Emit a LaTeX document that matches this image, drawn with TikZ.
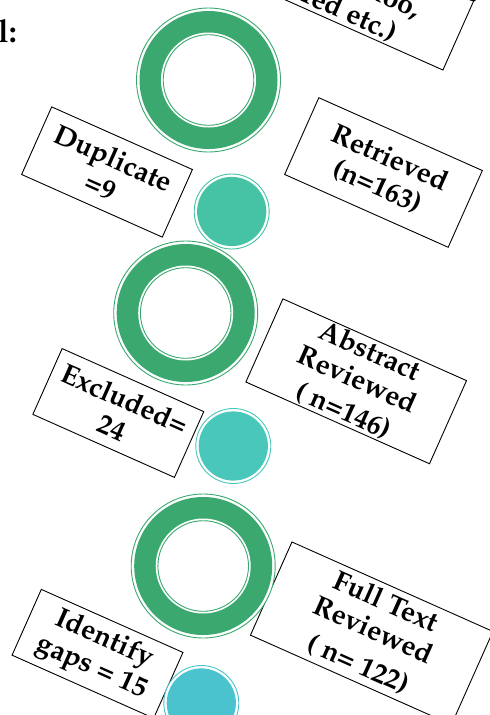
\documentclass[tikz,border=0pt]{standalone}
\usepackage[T1]{fontenc}
\usepackage{mathpazo}
\definecolor{ringgreen}{HTML}{3AA86F}
\definecolor{dotA}{HTML}{46C3A5}
\definecolor{dotB}{HTML}{49C7BB}
\definecolor{dotC}{HTML}{4BC3CF}
\begin{document}
\begin{tikzpicture}[x=1pt,y=-1pt,
  boxfont/.style={font=\fontsize{28}{31}\selectfont\bfseries},
  box/.style={draw=black, line width=0.9pt, fill=white, rotate=-24, align=center,
    boxfont, inner sep=0pt},
  boxtext/.style={rotate=-24, align=center, boxfont, inner sep=0pt},
  ring/.style={circle, draw=ringgreen, line width=0.9pt, fill=white, inner sep=0pt,
    minimum size=144pt,
    path picture={
      \fill[ringgreen] (path picture bounding box.center) circle[radius=69pt];
      \fill[white] (path picture bounding box.center) circle[radius=47.5pt];
      \draw[ringgreen, line width=0.9pt] (path picture bounding box.center) circle[radius=45.3pt];
    }},
  dot/.style={circle, draw=#1, line width=0.9pt, fill=white, inner sep=0pt,
    minimum size=75pt,
    path picture={
      \fill[#1] (path picture bounding box.center) circle[radius=34.6pt];
    }}
]
\useasboundingbox (0,0) rectangle (490,715);
\clip (0,0) rectangle (490,715);

% boxes
\node[box, minimum width=276pt, minimum height=102pt] (db) at (337.6,-32.7) {};
\node[boxtext] (dbt) at (332.2,-32.4)
  {Search Engine (Google\\[8pt]Scholar, Yahoo,\\PubMed etc.)};
\node[box, minimum width=179pt, minimum height=84pt] (ret) at (383.5,172.5)
  {Retrieved\\(n=163)};
\node[box, minimum width=154pt, minimum height=74pt] (dup) at (107,172)
  {Duplicate\\=9};
\node[box, minimum width=201pt, minimum height=91pt] (abs) at (356.2,381.3)
  {Abstract\\Reviewed\\[3pt]( n=146)};
\node[box, minimum width=155pt, minimum height=72pt] (exc) at (118.3,413)
  {Excluded=\\24};
\node[box, minimum width=220pt, minimum height=102pt] (full) at (371.7,633.3)
  {Full Text\\Reviewed\\[6pt]( n= 122)};
\node[box, minimum width=155pt, minimum height=72pt] (gap) at (97.5,653.8)
  {Identify\\gaps = 15};

% rings
\node[ring] (r1) at (208.5,80) {};
\node[ring] (r2) at (185.7,313) {};
\node[ring] (r3) at (203.2,566) {};

% dots
\node[dot=dotA] (d1) at (231.7,211.5) {};
\node[dot=dotB] (d2) at (233.3,446) {};
\node[dot=dotC] (d3) at (201.3,703) {};

% clipped heading
\node[anchor=base east, font=\fontsize{32}{36}\selectfont\bfseries, inner sep=0pt] (hd) at (17,42) {l:};
\end{tikzpicture}
\end{document}
